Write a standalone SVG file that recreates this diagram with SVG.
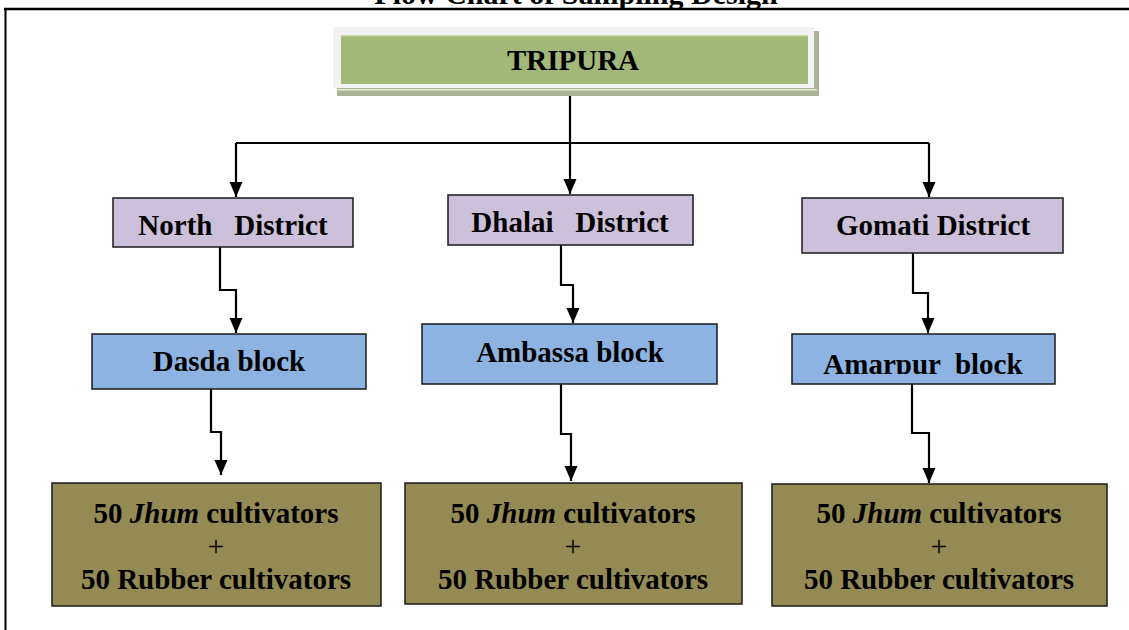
<svg xmlns="http://www.w3.org/2000/svg" width="1129" height="630" viewBox="0 0 1129 630">
  <style>
    .t { font-family: "Liberation Serif", "Times New Roman", serif; font-weight: bold; font-size: 29px; fill: #000; text-anchor: middle; white-space: pre; }
    .box { stroke: #1a1a1a; stroke-width: 1.5; }
    .dist { fill: #ccc0da; }
    .blk { fill: #8db3e2; }
    .cult { fill: #948a54; }
    .con { fill: none; stroke: #000; stroke-width: 2.2; }
  </style>
  <defs>
    <marker id="arr" markerUnits="userSpaceOnUse" markerWidth="16" markerHeight="14" refX="15" refY="6.5" orient="auto">
      <path d="M0,0 L15,6.5 L0,13 Z" fill="#000"/>
    </marker>
    <clipPath id="clipAm">
      <rect x="792" y="334" width="263" height="40"/>
    </clipPath>
  </defs>

  <rect width="1129" height="630" fill="#fff"/>

  <g id="title">
    <text class="t" x="576" y="4" style="font-size:30px">Flow Chart of Sampling Design</text>
  </g>
  <g id="frame" fill="none" stroke="#000">
    <line x1="4" y1="9" x2="1129" y2="9" stroke-width="2.6"/>
    <line x1="5.5" y1="9" x2="5.5" y2="630" stroke-width="2"/>
  </g>

  <g id="connectors">
    <path class="con" d="M570,90 V194" marker-end="url(#arr)"/>
    <path class="con" d="M236,143 H929"/>
    <path class="con" d="M236,143 V197" marker-end="url(#arr)"/>
    <path class="con" d="M929,143 V197" marker-end="url(#arr)"/>
    <path class="con" d="M220,247 V290 H236 V333" marker-end="url(#arr)"/>
    <path class="con" d="M561,245 V285 H573 V323" marker-end="url(#arr)"/>
    <path class="con" d="M913,253 V293 H928 V333" marker-end="url(#arr)"/>
    <path class="con" d="M211,389 V432 H221 V475" marker-end="url(#arr)"/>
    <path class="con" d="M561,384 V434 H571 V481" marker-end="url(#arr)"/>
    <path class="con" d="M912,384 V433 H929 V483" marker-end="url(#arr)"/>
  </g>

  <g id="tripura">
    <rect x="337" y="31" width="482" height="65" fill="#a9b596"/>
    <rect x="337" y="89" width="480" height="1.5" fill="#e6ecd9"/>
    <rect x="333" y="27" width="481" height="61" fill="#f2f2f2"/>
    <rect x="341" y="35" width="467" height="49" fill="#a2b878"/>
    <rect x="341" y="35" width="467" height="1.5" fill="#c4d79b"/>
    <text class="t" x="573" y="70">TRIPURA</text>
  </g>

  <g id="north-district">
    <rect class="box dist" x="113" y="198" width="240" height="49"/>
    <text class="t" x="233" y="235">North   District</text>
  </g>
  <g id="dhalai-district">
    <rect class="box dist" x="448" y="195" width="245" height="50"/>
    <text class="t" x="570" y="232">Dhalai   District</text>
  </g>
  <g id="gomati-district">
    <rect class="box dist" x="802" y="198" width="261" height="55"/>
    <text class="t" x="933" y="235">Gomati District</text>
  </g>

  <g id="dasda-block">
    <rect class="box blk" x="92" y="334" width="274" height="55"/>
    <text class="t" x="229" y="371">Dasda block</text>
  </g>
  <g id="ambassa-block">
    <rect class="box blk" x="422" y="324" width="295" height="60"/>
    <text class="t" x="570" y="362">Ambassa block</text>
  </g>
  <g id="amarpur-block">
    <rect class="box blk" x="792" y="334" width="263" height="50"/>
    <text class="t" x="923" y="374" clip-path="url(#clipAm)">Amarpur  block</text>
  </g>

  <g id="cultivators-1">
    <rect class="box cult" x="52" y="483" width="329" height="123"/>
    <text class="t" x="216" y="523">50 <tspan font-style="italic">Jhum</tspan> cultivators</text>
    <text class="t" x="216" y="556" style="font-weight:normal">+</text>
    <text class="t" x="216" y="589">50 Rubber cultivators</text>
  </g>
  <g id="cultivators-2">
    <rect class="box cult" x="405" y="483" width="337" height="121"/>
    <text class="t" x="573" y="523">50 <tspan font-style="italic">Jhum</tspan> cultivators</text>
    <text class="t" x="573" y="556" style="font-weight:normal">+</text>
    <text class="t" x="573" y="589">50 Rubber cultivators</text>
  </g>
  <g id="cultivators-3">
    <rect class="box cult" x="772" y="484" width="335" height="122"/>
    <text class="t" x="939" y="523">50 <tspan font-style="italic">Jhum</tspan> cultivators</text>
    <text class="t" x="939" y="556" style="font-weight:normal">+</text>
    <text class="t" x="939" y="589">50 Rubber cultivators</text>
  </g>
</svg>
